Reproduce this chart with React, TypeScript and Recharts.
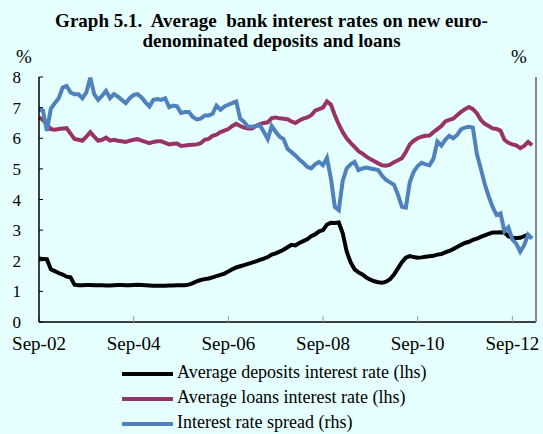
import React from 'react';
import { LineChart, Line, XAxis, YAxis } from 'recharts';

const FONT = "'Liberation Serif', 'Times New Roman', serif";

// monthly, Sep-02 .. Feb-13
const deposits = [
  2.07, 2.06, 2.05, 1.72, 1.66, 1.6, 1.55, 1.48, 1.46, 1.22, 1.2, 1.2,
  1.21, 1.21, 1.2, 1.2, 1.2, 1.19, 1.19, 1.2, 1.21, 1.21, 1.2, 1.2,
  1.21, 1.22, 1.21, 1.2, 1.19, 1.18, 1.18, 1.18, 1.18, 1.19, 1.19, 1.2,
  1.2, 1.2, 1.22, 1.27, 1.33, 1.37, 1.4, 1.42, 1.46, 1.5, 1.54, 1.58,
  1.65, 1.72, 1.78, 1.82, 1.86, 1.9, 1.94, 1.98, 2.03, 2.07, 2.12, 2.2,
  2.24, 2.3, 2.36, 2.44, 2.52, 2.5, 2.58, 2.64, 2.7, 2.8, 2.86, 2.96,
  3.0, 3.18, 3.24, 3.23, 3.25, 2.9, 2.3, 1.95, 1.72, 1.62, 1.55, 1.45,
  1.38, 1.33, 1.3, 1.28, 1.32, 1.4, 1.55, 1.75, 1.95, 2.1, 2.15, 2.12,
  2.1, 2.11, 2.13, 2.15, 2.16, 2.2, 2.22, 2.27, 2.32, 2.38, 2.45, 2.52,
  2.58, 2.62, 2.68, 2.72, 2.78, 2.83, 2.88, 2.92, 2.92, 2.93, 2.92, 2.8,
  2.75, 2.74, 2.75, 2.8, 2.85, null,
];

const loans = [
  6.68, 6.6, 6.45, 6.3, 6.28, 6.3, 6.32, 6.33, 6.15, 5.98, 5.95, 5.92,
  6.05, 6.2, 6.05, 5.92, 5.95, 6.02, 5.92, 5.95, 5.92, 5.9, 5.88, 5.92,
  5.95, 5.97, 5.92, 5.88, 5.84, 5.88, 5.9, 5.9, 5.85, 5.8, 5.82, 5.83,
  5.75, 5.76, 5.78, 5.79, 5.8, 5.84, 5.95, 5.98, 6.08, 6.12, 6.2, 6.25,
  6.3, 6.4, 6.47, 6.4, 6.35, 6.32, 6.32, 6.4, 6.46, 6.5, 6.52, 6.66,
  6.68, 6.65, 6.64, 6.62, 6.55, 6.5, 6.58, 6.64, 6.68, 6.75, 6.9, 6.95,
  7.0, 7.2, 7.1, 6.75, 6.45, 6.2, 6.0, 5.85, 5.72, 5.58, 5.5, 5.4,
  5.32, 5.25, 5.18, 5.12, 5.1, 5.14, 5.22, 5.28, 5.35, 5.55, 5.8, 5.92,
  6.0, 6.05, 6.08, 6.09, 6.2, 6.3, 6.4, 6.55, 6.6, 6.64, 6.75, 6.86,
  6.95, 7.02, 6.95, 6.82, 6.6, 6.47, 6.4, 6.32, 6.3, 6.25, 5.95, 5.85,
  5.8, 5.77, 5.68, 5.75, 5.88, 5.77,
];

// rhs
const spread = [
  4.6, 4.59, 4.34, 4.61, 4.68, 4.74, 4.87, 4.89, 4.81, 4.79, 4.79, 4.74,
  4.81, 4.99, 4.79, 4.72, 4.77, 4.83, 4.74, 4.79, 4.76, 4.72, 4.68, 4.74,
  4.78, 4.79, 4.75, 4.69, 4.64, 4.72, 4.73, 4.72, 4.74, 4.63, 4.65, 4.64,
  4.56, 4.57, 4.57, 4.51, 4.48, 4.49, 4.53, 4.53, 4.55, 4.65, 4.6, 4.64,
  4.66, 4.68, 4.7, 4.49, 4.45, 4.39, 4.39, 4.4, 4.41, 4.33, 4.24, 4.4,
  4.33, 4.27, 4.24, 4.12, 4.08, 4.04, 3.99, 3.95, 3.9, 3.88, 3.93, 3.96,
  3.92, 4.01, 3.76, 3.41, 3.37, 3.73, 3.88, 3.93, 3.96, 3.86, 3.88, 3.89,
  3.88, 3.87, 3.86, 3.79, 3.74, 3.71, 3.68, 3.56, 3.41, 3.4, 3.71, 3.84,
  3.91, 3.95, 3.93, 3.92, 4.0, 4.21, 4.16, 4.23, 4.28, 4.25, 4.29, 4.36,
  4.38, 4.39, 4.38, 4.06, 3.88, 3.69, 3.54, 3.41, 3.31, 3.33, 3.11, 3.16,
  3.01, 2.96, 2.86, 2.94, 3.07, 3.02,
];

const xTicks = [0, 24, 48, 72, 96, 120];
const xTickLabels = ['Sep-02', 'Sep-04', 'Sep-06', 'Sep-08', 'Sep-10', 'Sep-12'];
const lhsTicks = [0, 1, 2, 3, 4, 5, 6, 7, 8];
const rhsTicks = [2, 2.5, 3, 3.5, 4, 4.5, 5];

const seriesNames = [
  'Average deposits interest rate (lhs)',
  'Average loans interest rate (lhs)',
  'Interest rate spread (rhs)',
];
const colors = ['#000000', '#993366', '#4F81BD'];

const data = loans.map((_, i) => ({
  m: i,
  deposits: deposits[i],
  loans: loans[i],
  spread: spread[i],
}));

const App = () => (
  <div
    style={{
      position: 'absolute',
      top: 0,
      left: 0,
      width: 543,
      height: 434,
      background: '#E6FFFF',
      fontFamily: FONT,
      overflow: 'hidden',
    }}
  >
    <div
      style={{
        position: 'absolute',
        top: 11,
        left: 0,
        width: 543,
        textAlign: 'center',
        fontSize: 19,
        lineHeight: '20px',
        fontWeight: 'bold',
        whiteSpace: 'pre',
      }}
    >
      {'Graph 5.1.  Average  bank interest rates on new euro-\ndenominated deposits and loans'}
    </div>
    <div style={{ position: 'absolute', top: 46, left: 16, fontSize: 19 }}>%</div>
    <div style={{ position: 'absolute', top: 46, left: 511, fontSize: 19 }}>%</div>

    <LineChart
      width={543}
      height={434}
      data={data}
      margin={{ top: 77, right: 0, bottom: 82, left: 0 }}
      style={{ position: 'absolute', top: 0, left: 0 }}
    >
      <XAxis
        dataKey="m"
        type="number"
        domain={[0, 126]}
        ticks={xTicks}
        interval={0}
        tickFormatter={(v) => xTickLabels[xTicks.indexOf(v)]}
        height={30}
        axisLine={{ stroke: '#000', strokeWidth: 1.5 }}
        tickLine={{ stroke: '#999' }}
        tickSize={-6}
        tickMargin={21}
        tick={{ fill: '#000', fontSize: 19, fontFamily: FONT }}
      />
      <YAxis
        yAxisId="l"
        domain={[0, 8]}
        ticks={lhsTicks}
        interval={0}
        width={39}
        axisLine={{ stroke: '#000', strokeWidth: 1.5 }}
        tickLine={{ stroke: '#000' }}
        tickSize={-4}
        tickMargin={22}
        tick={{ fill: '#000', fontSize: 17, fontFamily: FONT }}
      />
      <YAxis
        yAxisId="r"
        orientation="right"
        domain={[2, 5]}
        ticks={rhsTicks}
        interval={0}
        width={7}
        tick={false}
        tickSize={5}
        axisLine={{ stroke: '#888', strokeWidth: 2 }}
        tickLine={{ stroke: '#888', strokeWidth: 1.5 }}
      />
      <Line yAxisId="l" dataKey="deposits" stroke={colors[0]} strokeWidth={4} dot={false} isAnimationActive={false} />
      <Line yAxisId="l" dataKey="loans" stroke={colors[1]} strokeWidth={4} dot={false} isAnimationActive={false} />
      <Line yAxisId="r" dataKey="spread" stroke={colors[2]} strokeWidth={4} dot={false} isAnimationActive={false} />
    </LineChart>

    <div style={{ position: 'absolute', top: 360, left: 122, fontSize: 18 }}>
      {seriesNames.map((name, i) => (
        <div key={name} style={{ height: 25, lineHeight: '25px', whiteSpace: 'nowrap' }}>
          <span
            style={{
              display: 'inline-block',
              width: 51,
              height: 4,
              background: colors[i],
              verticalAlign: 'middle',
              marginRight: 4,
            }}
          />
          {name}
        </div>
      ))}
    </div>
  </div>
);

export default App;
